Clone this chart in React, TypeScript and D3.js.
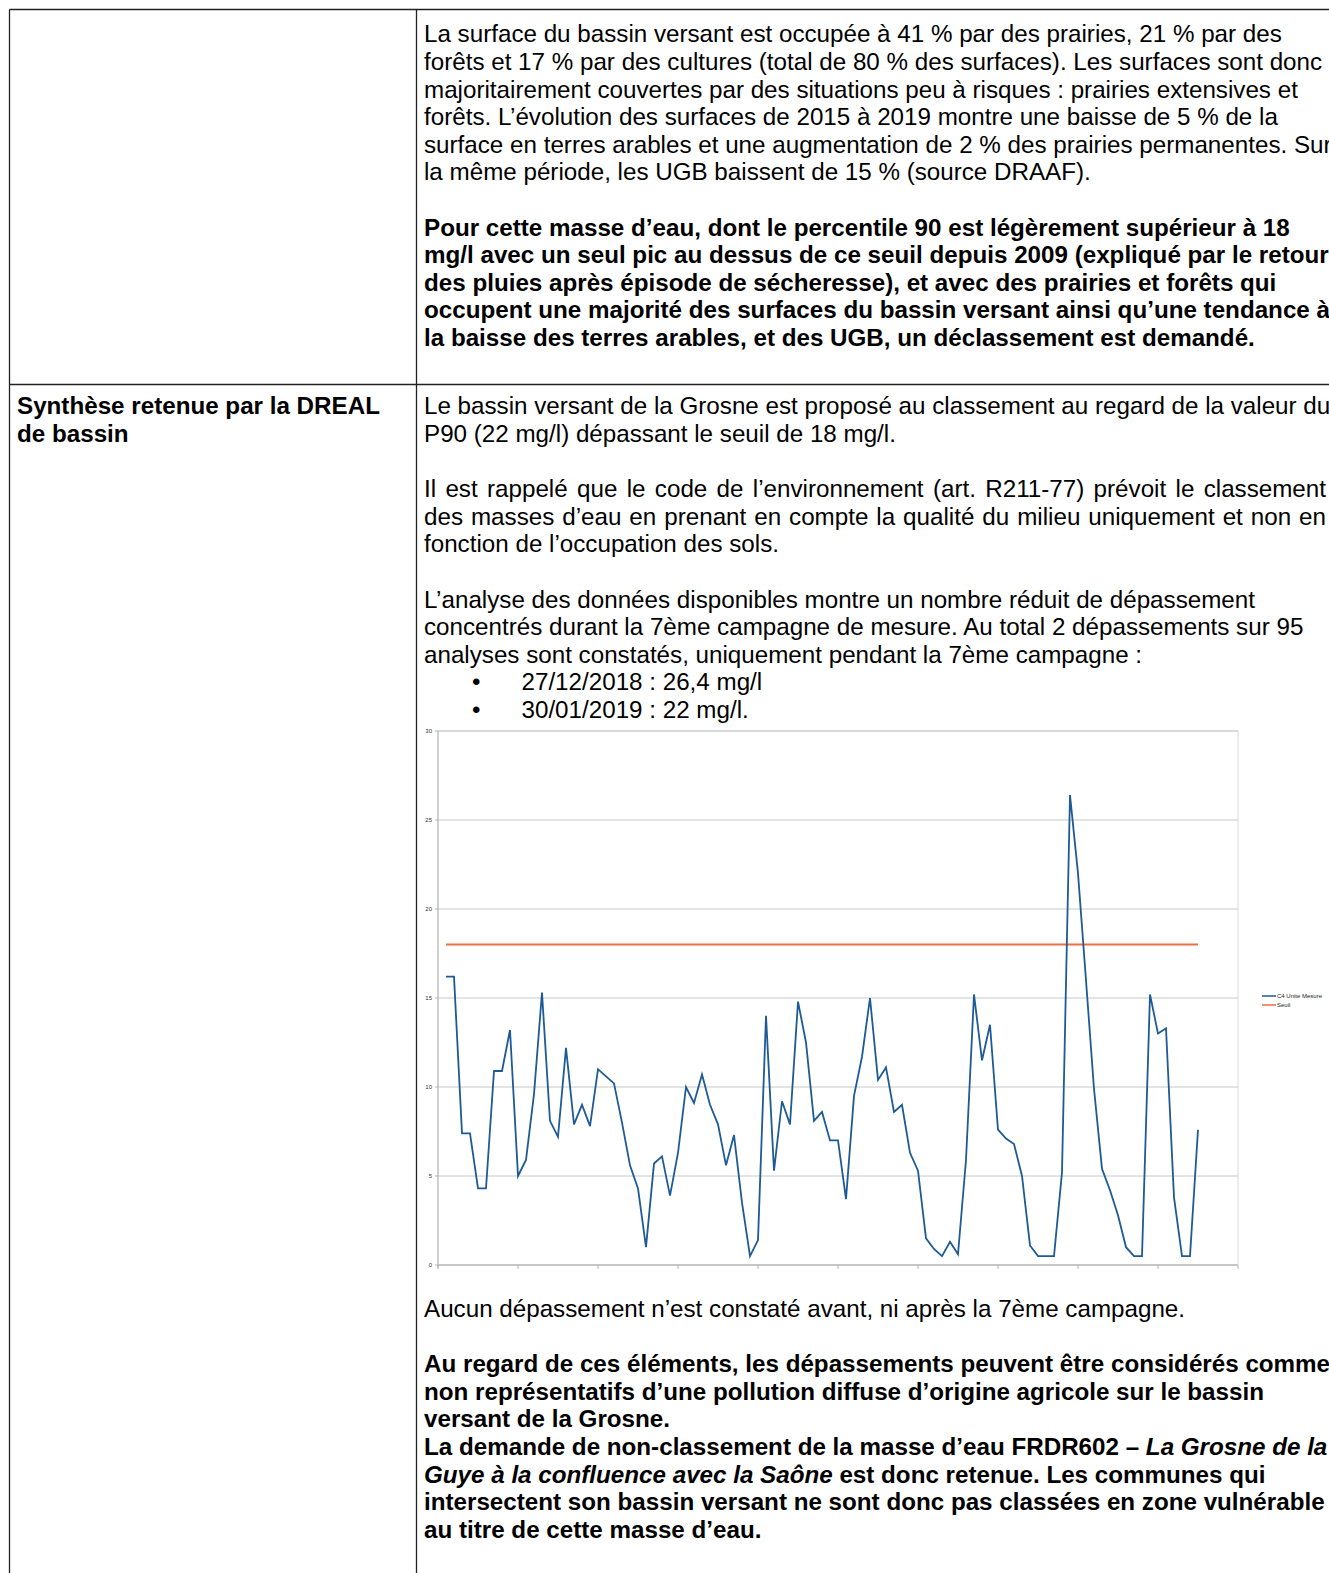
import React, { useLayoutEffect, useRef } from "react";
import * as d3 from "d3";

// ---------- chart data ----------
const measures: number[] = [
  16.2, 16.2, 7.4, 7.4, 4.3, 4.3, 10.9, 10.9, 13.2, 5.0,
  5.9, 9.6, 15.3, 8.1, 7.2, 12.2, 7.9, 9.0, 7.8, 11.0,
  10.6, 10.2, 8.0, 5.6, 4.3, 1.0, 5.7, 6.1, 3.9, 6.3,
  10.0, 9.1, 10.7, 9.0, 7.9, 5.6, 7.3, 3.5, 0.5, 1.4,
  14.0, 5.3, 9.2, 7.9, 14.8, 12.5, 8.1, 8.6, 7.0, 7.0,
  3.7, 9.5, 11.7, 15.0, 10.4, 11.1, 8.6, 9.0, 6.3, 5.3,
  1.5, 0.9, 0.5, 1.3, 0.6, 5.9, 15.2, 11.5, 13.5, 7.6,
  7.1, 6.8, 5.0, 1.1, 0.5, 0.5, 0.5, 5.2, 26.4, 22.0,
  16.0, 9.9, 5.4, 4.2, 2.8, 1.0, 0.5, 0.5, 15.2, 13.0,
  13.3, 3.8, 0.5, 0.5, 7.6,
];
const seuil = 18;
const yTicks = [0, 5, 10, 15, 20, 25, 30];
const xTickSlots = [0, 10, 20, 30, 40, 50, 60, 70, 80, 90, 100];
const legendLabels = ["C4 Unite Mesure", "Seuil"];

// ---------- document text ----------
const row1Normal = [
  "La surface du bassin versant est occupée à 41 % par des prairies, 21 % par des",
  "forêts et 17 % par des cultures (total de 80 % des surfaces). Les surfaces sont donc",
  "majoritairement couvertes par des situations peu à risques : prairies extensives et",
  "forêts. L’évolution des surfaces de 2015 à 2019 montre une baisse de 5 % de la",
  "surface en terres arables et une augmentation de 2 % des prairies permanentes. Sur",
  "la même période, les UGB baissent de 15 % (source DRAAF).",
];
const row1Bold = [
  "Pour cette masse d’eau, dont le percentile 90 est légèrement supérieur à 18",
  "mg/l avec un seul pic au dessus de ce seuil depuis 2009 (expliqué par le retour",
  "des pluies après épisode de sécheresse), et avec des prairies et forêts qui",
  "occupent une majorité des surfaces du bassin versant ainsi qu’une tendance à",
  "la baisse des terres arables, et des UGB, un déclassement est demandé.",
];
const row2Left = ["Synthèse retenue par la DREAL", "de bassin"];
const row2Para1 = [
  "Le bassin versant de la Grosne est proposé au classement au regard de la valeur du",
  "P90 (22 mg/l) dépassant le seuil de 18 mg/l.",
];
const row2Para2 = [
  "Il est rappelé que le code de l’environnement (art. R211-77) prévoit le classement",
  "des masses d’eau en prenant en compte la qualité du milieu uniquement et non en",
  "fonction de l’occupation des sols.",
];
const row2Para3 = [
  "L’analyse des données disponibles montre un nombre réduit de dépassement",
  "concentrés durant la 7ème campagne de mesure. Au total 2 dépassements sur 95",
  "analyses sont constatés, uniquement pendant la 7ème campagne :",
];
const bullets = ["27/12/2018 : 26,4 mg/l", "30/01/2019 : 22 mg/l."];
const afterChart = "Aucun dépassement n’est constaté avant, ni après la 7ème campagne.";
const finalBold = [
  "Au regard de ces éléments, les dépassements peuvent être considérés comme",
  "non représentatifs d’une pollution diffuse d’origine agricole sur le bassin",
  "versant de la Grosne.",
];

const FONT = "'Liberation Sans', Arial, sans-serif";
const FS = 24.2;
const LH = 27.6;

function Lines({ lines, x, y, bold = false }: { lines: string[]; x: number; y: number; bold?: boolean }) {
  return (
    <>
      {lines.map((t, i) => (
        <text key={i} x={x} y={y + i * LH} fontSize={FS} fontWeight={bold ? "bold" : "normal"} fill="#000">
          {t}
        </text>
      ))}
    </>
  );
}

function JustifiedLine({ text, x, y, width }: { text: string; x: number; y: number; width: number }) {
  const ref = useRef<SVGTextElement>(null);
  useLayoutEffect(() => {
    const el = ref.current;
    if (!el) return;
    el.setAttribute("word-spacing", "0");
    const len = el.getComputedTextLength();
    const spaces = (text.match(/ /g) || []).length;
    if (spaces > 0) el.setAttribute("word-spacing", String((width - len) / spaces));
  }, [text, width]);
  return (
    <text ref={ref} x={x} y={y} fontSize={FS} fill="#000">
      {text}
    </text>
  );
}

function Chart() {
  const left = 438, right = 1238, top = 731, bottom = 1265;
  const x = d3.scaleLinear().domain([0, 100]).range([left, right]);
  const y = d3.scaleLinear().domain([0, 30]).range([bottom, top]);
  const line = d3
    .line<number>()
    .x((_, i) => x(i + 1))
    .y((d) => y(d));
  const blue = "#1d5a96";
  const orange = "#f26d43";
  return (
    <g fontFamily={FONT}>
      <rect x={left} y={top} width={right - left} height={bottom - top} fill="none" stroke="#d9d9d9" strokeWidth={1} />
      {yTicks.map((t) => (
        <g key={t}>
          <line x1={left} x2={right} y1={y(t)} y2={y(t)} stroke="#c8c8c8" strokeWidth={1} />
          <line x1={left - 3} x2={left} y1={y(t)} y2={y(t)} stroke="#b3b3b3" strokeWidth={1} />
          <text x={left - 6} y={y(t) + 2} fontSize={6} textAnchor="end" fill="#333">
            {t}
          </text>
        </g>
      ))}
      <line x1={left} x2={left} y1={top} y2={bottom + 3} stroke="#b3b3b3" strokeWidth={1} />
      <line x1={left} x2={right} y1={bottom} y2={bottom} stroke="#b3b3b3" strokeWidth={1} />
      {xTickSlots.map((t) => (
        <line key={t} x1={x(t)} x2={x(t)} y1={bottom} y2={bottom + 4} stroke="#b3b3b3" strokeWidth={1} />
      ))}
      <line x1={x(1)} x2={x(measures.length)} y1={y(seuil)} y2={y(seuil)} stroke={orange} strokeWidth={2} />
      <path d={line(measures) || ""} fill="none" stroke={blue} strokeWidth={1.8} strokeLinejoin="miter" />
      {legendLabels.map((l, i) => (
        <g key={l}>
          <line x1={1262} x2={1276} y1={996 + i * 9} y2={996 + i * 9} stroke={i === 0 ? blue : orange} strokeWidth={1.5} />
          <text x={1277} y={998 + i * 9} fontSize={6} fill="#222">
            {l}
          </text>
        </g>
      ))}
    </g>
  );
}

export default function App() {
  const tx = 424;
  const yAfter = 1317;
  const yFinal = 1372.2;
  return (
    <svg
      width={1329}
      height={1573}
      style={{ position: "absolute", left: 0, top: 0, background: "#fff" }}
      fontFamily={FONT}
    >
      <rect x={0} y={0} width={1329} height={1573} fill="#fff" />
      <line x1={9.5} x2={1329} y1={9.5} y2={9.5} stroke="#222" strokeWidth={1.3} />
      <line x1={9.5} x2={1329} y1={384.5} y2={384.5} stroke="#222" strokeWidth={1.3} />
      <line x1={9.5} x2={9.5} y1={9.5} y2={1573} stroke="#222" strokeWidth={1.3} />
      <line x1={416.5} x2={416.5} y1={9.5} y2={1573} stroke="#222" strokeWidth={1.3} />

      <Lines lines={row1Normal} x={tx} y={42.3} />
      <Lines lines={row1Bold} x={tx} y={235.5} bold />

      <Lines lines={row2Left} x={17} y={414.3} bold />
      <Lines lines={row2Para1} x={tx} y={414.3} />
      {row2Para2.map((t, i) =>
        i < 2 ? (
          <JustifiedLine key={i} text={t} x={tx} y={497.1 + i * LH} width={902} />
        ) : (
          <text key={i} x={tx} y={497.1 + i * LH} fontSize={FS}>
            {t}
          </text>
        )
      )}
      <Lines lines={row2Para3} x={tx} y={607.5} />
      {bullets.map((b, i) => (
        <g key={i}>
          <text x={472} y={690.3 + i * LH} fontSize={FS}>•</text>
          <text x={521.5} y={690.3 + i * LH} fontSize={FS}>{b}</text>
        </g>
      ))}

      <Chart />

      <text x={tx} y={yAfter} fontSize={FS}>{afterChart}</text>
      <Lines lines={finalBold} x={tx} y={yFinal} bold />
      <text x={tx} y={yFinal + 3 * LH} fontSize={FS} fontWeight="bold">
        La demande de non-classement de la masse d’eau FRDR602 – <tspan fontStyle="italic">La Grosne de la</tspan>
      </text>
      <text x={tx} y={yFinal + 4 * LH} fontSize={FS} fontWeight="bold">
        <tspan fontStyle="italic">Guye à la confluence avec la Saône</tspan> est donc retenue. Les communes qui
      </text>
      <text x={tx} y={yFinal + 5 * LH} fontSize={FS} fontWeight="bold">
        intersectent son bassin versant ne sont donc pas classées en zone vulnérable
      </text>
      <text x={tx} y={yFinal + 6 * LH} fontSize={FS} fontWeight="bold">
        au titre de cette masse d’eau.
      </text>
    </svg>
  );
}
